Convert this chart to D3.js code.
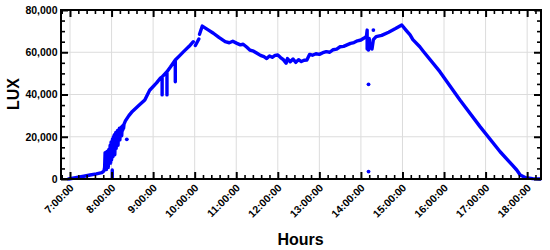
<!DOCTYPE html>
<html>
<head>
<meta charset="utf-8">
<script src="https://cdn.jsdelivr.net/npm/d3@7"></script>
<style>
  body { margin: 0; background: #fff; }
  text { font-family: Arial, "Liberation Sans", sans-serif; font-weight: bold; }
</style>
</head>
<body>
<div id="chart"></div>
<script>
// lux sensor readings over one day; null = gap in the trace
var times = [
  "6:58", "7:10", "7:20", "7:29", "7:38", "7:46", "7:49",
  "7:50:00", "7:50:40", "7:51:20", "7:52:00", "7:52:40", "7:53:20", "7:54:00", "7:54:40",
  "7:55:20", "7:56:00", "7:56:40", "7:57:20", "7:58:00", "7:58:40", "7:59:20", "8:00:00",
  "8:00:40", "8:01:20", "8:02:00", "8:02:40", "8:03:20", "8:04:00", "8:04:40", "8:05:20",
  "8:06:00", "8:06:40", "8:07:20", "8:08:00", "8:08:40", "8:09:20", "8:10:00", "8:10:40",
  "8:11:20", "8:12:00", "8:12:40", "8:13:20", "8:14:00", "8:14:40", "8:15:20", "8:16:00",
  "8:16:40", "8:17:20", "8:18:00",
  "8:20", "8:25", "8:30", "8:35", "8:40", "8:48",
  "8:55", "9:05", "9:10",
  "9:13", "9:13", "9:13", "9:20", "9:20", "9:20", "9:25", "9:32", "9:32", "9:32",
  "9:38", "9:44", "9:52", "9:58", null,
  "10:01", "10:06", null,
  "10:07", "10:11", "10:20", "10:27", "10:35", "10:44", "10:50", "10:55",
  "11:01", "11:06", "11:10", "11:15", "11:20", "11:25", "11:30", "11:35", "11:40", "11:44",
  "11:48", "11:52", "11:56", "12:00", "12:04", "12:08", "12:12", "12:14", "12:18", "12:22",
  "12:26", "12:30", "12:34", "12:38", "12:42", "12:46", "12:50", "12:55", "13:00", "13:05",
  "13:10", "13:15", "13:20", "13:25", "13:30", "13:35", "13:40", "13:45", "13:50", "13:55",
  "14:00", "14:04", "14:08", "14:09", "14:09", "14:10", "14:11", "14:12", "14:13", "14:15",
  "14:16", "14:18", "14:22", "14:30", "14:40", "14:50", "14:59",
  "15:05", "15:11", "15:15", "15:25", "15:30", "15:54", "16:23", "16:52", "17:21", "17:45",
  "17:50", "17:58", "18:08", "18:19", null,
  "8:01", "8:01"
];
var lux = [
  0, 700, 1300, 1900, 2400, 3000, 3800,
  5500, 12500, 6000, 11000, 4500, 13000, 7000, 10000,
  5500, 14000, 8000, 12500, 16000, 7500, 17500, 9000,
  14000, 19000, 10500, 20000, 13000, 21000, 11500, 18500,
  22000, 14500, 21500, 17000, 23000, 16000, 22500, 19000,
  24000, 18500, 23000, 21000, 24500, 20500, 25000, 23000,
  25500, 24000, 26000,
  27500, 30000, 32000, 33500, 35000, 37400,
  42000, 45500, 47600,
  48300, 39800, 48300, 50800, 39800, 50800, 53000, 56300, 46000, 56300,
  58300, 60300, 62800, 65000, null,
  63200, 66300, null,
  68500, 72400, 70500, 69000, 67000, 65000, 64500, 65200,
  64200, 63500, 63800, 62500, 61000, 60500, 59500, 58500, 57900, 57000,
  58200, 57600, 58500, 58700, 57500, 56500, 54800, 57000, 55500, 56800,
  55200, 56500, 55600, 56200, 56300, 59000, 58600, 59300, 59000, 59800,
  60300, 60000, 61200, 61500, 62600, 62800, 63500, 64200, 64600, 65400,
  65800, 66600, 67500, 70500, 61500, 64000, 61000, 66500, 62000, 63500,
  61500, 66000, 67400, 68000, 69500, 71200, 72900,
  70500, 68200, 66000, 62600, 60500, 50800, 37400, 24800, 12900, 4260,
  1900, 600, 200, 0, null,
  4300, 300
];
// stray single readings
var dotTimes = ["8:22", "14:11", "14:11", "14:18"];
var dotLux = [18800, 44800, 3500, 70500];

var yTicks = [0, 20000, 40000, 60000, 80000];

var margin = { top: 10, right: 9, bottom: 71, left: 61 },
    width = 550 - margin.left - margin.right,
    height = 250 - margin.top - margin.bottom;

function parseT(s) {
  if (s === null) return null;
  var p = s.split(":");
  return new Date(2000, 0, 1, +p[0], +p[1], p[2] ? +p[2] : 0);
}

var data = times.map(function(t, i) {
  return { t: parseT(t), v: lux[i] };
});
var dots = dotTimes.map(function(t, i) {
  return { t: parseT(t), v: dotLux[i] };
});

var svg = d3.select("#chart")
    .append("svg")
    .attr("width", 550)
    .attr("height", 250)
    .append("g")
    .attr("transform", "translate(" + margin.left + "," + margin.top + ")");

var x = d3.scaleTime()
    .domain([new Date(2000, 0, 1, 6, 47), new Date(2000, 0, 1, 18, 20)])
    .range([0, width]);

var y = d3.scaleLinear()
    .domain([0, 80000])
    .range([height, 0]);

var hourTicks = x.ticks(d3.timeHour.every(1));
var minorX = x.ticks(d3.timeMinute.every(12)).filter(function(d) { return d.getMinutes() !== 0; });
var minorY = d3.range(5000, 80000, 5000).filter(function(d) { return d % 20000 !== 0; });

// grid
svg.append("g").selectAll("line.gx")
    .data(hourTicks).enter().append("line")
    .attr("x1", function(d) { return x(d); }).attr("x2", function(d) { return x(d); })
    .attr("y1", 0).attr("y2", height)
    .attr("stroke", "#dcdcdc").attr("stroke-width", 1);
svg.append("g").selectAll("line.gy")
    .data(yTicks.slice(1, -1)).enter().append("line")
    .attr("x1", 0).attr("x2", width)
    .attr("y1", function(d) { return y(d); }).attr("y2", function(d) { return y(d); })
    .attr("stroke", "#dcdcdc").attr("stroke-width", 1);

// data
var line = d3.line()
    .defined(function(d) { return d.t !== null; })
    .x(function(d) { return x(d.t); })
    .y(function(d) { return y(d.v); });

svg.append("path")
    .datum(data)
    .attr("fill", "none")
    .attr("stroke", "#0000ff")
    .attr("stroke-width", 3.4)
    .attr("stroke-linejoin", "round")
    .attr("stroke-linecap", "round")
    .attr("d", line);

svg.selectAll("circle.dot")
    .data(dots).enter().append("circle")
    .attr("cx", function(d) { return x(d.t); })
    .attr("cy", function(d) { return y(d.v); })
    .attr("r", 1.9)
    .attr("fill", "#0000ff");

// axes, ticks pointing inward on all four sides
function styleAxis(g, sw) {
  g.select(".domain").remove();
  g.selectAll(".tick line").attr("stroke", "#000").attr("stroke-width", sw);
}

var fmt = d3.timeFormat("%-H:%M:%S");

var xBottom = svg.append("g")
    .attr("transform", "translate(0," + height + ")")
    .call(d3.axisBottom(x).tickValues(hourTicks).tickSize(-7).tickFormat(fmt));
styleAxis(xBottom, 2);
xBottom.selectAll(".tick text")
    .attr("y", null).attr("dy", null)
    .attr("text-anchor", "end")
    .attr("transform", "translate(4,9.5) rotate(-45)")
    .style("font-size", "10.5px")
    .attr("fill", "#000");

var xBottomMinor = svg.append("g")
    .attr("transform", "translate(0," + height + ")")
    .call(d3.axisBottom(x).tickValues(minorX).tickSize(-4).tickFormat(""));
styleAxis(xBottomMinor, 1.6);

var xTop = svg.append("g")
    .call(d3.axisTop(x).tickValues(hourTicks).tickSize(-7).tickFormat(""));
styleAxis(xTop, 2);
var xTopMinor = svg.append("g")
    .call(d3.axisTop(x).tickValues(minorX).tickSize(-4).tickFormat(""));
styleAxis(xTopMinor, 1.6);

var yLeft = svg.append("g")
    .call(d3.axisLeft(y).tickValues(yTicks).tickSize(-7).tickPadding(3.5).tickFormat(d3.format(",")));
styleAxis(yLeft, 2);
yLeft.selectAll(".tick text").style("font-size", "10.5px").attr("fill", "#000");

var yLeftMinor = svg.append("g")
    .call(d3.axisLeft(y).tickValues(minorY).tickSize(-4).tickFormat(""));
styleAxis(yLeftMinor, 1.6);

var yRight = svg.append("g")
    .attr("transform", "translate(" + width + ",0)")
    .call(d3.axisRight(y).tickValues(yTicks).tickSize(-7).tickFormat(""));
styleAxis(yRight, 2);
var yRightMinor = svg.append("g")
    .attr("transform", "translate(" + width + ",0)")
    .call(d3.axisRight(y).tickValues(minorY).tickSize(-4).tickFormat(""));
styleAxis(yRightMinor, 1.6);

// frame
svg.append("rect")
    .attr("width", width).attr("height", height)
    .attr("fill", "none").attr("stroke", "#000").attr("stroke-width", 2);

// titles
svg.append("text")
    .attr("x", width / 2 - 0.5)
    .attr("y", 235)
    .attr("text-anchor", "middle")
    .style("font-size", "16px")
    .text("Hours");

svg.append("text")
    .attr("transform", "translate(" + (18.5 - margin.left) + "," + (94 - margin.top) + ") rotate(-90)")
    .attr("text-anchor", "middle")
    .style("font-size", "16px")
    .text("LUX");
</script>
</body>
</html>
